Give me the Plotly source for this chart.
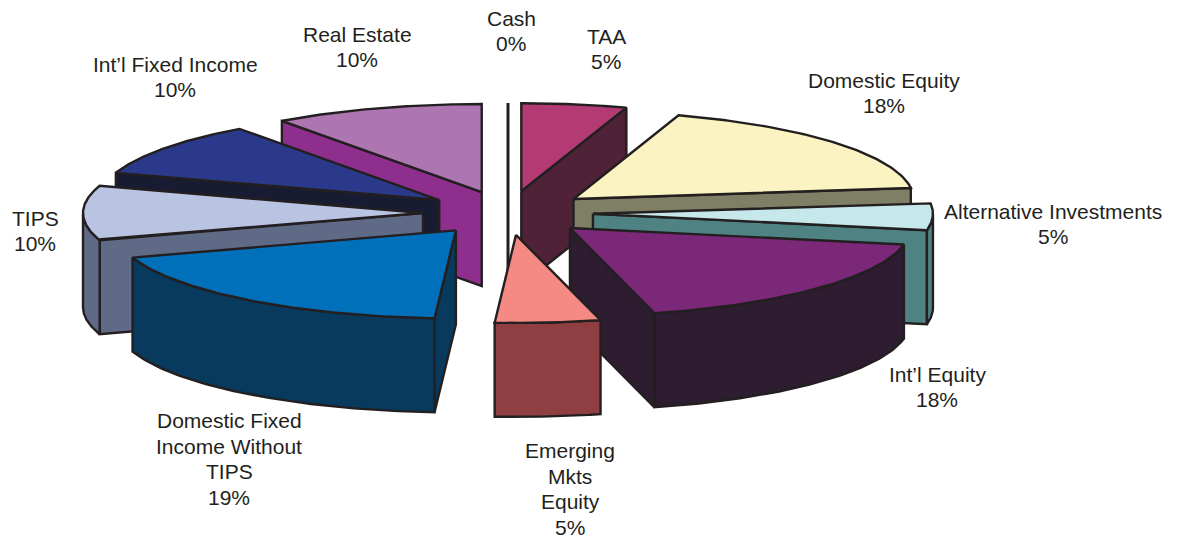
import numpy as np
import plotly.graph_objects as go

# --- data ---
names = ["Cash", "TAA", "Domestic Equity", "Alternative Investments", "Int\u2019l Equity",
         "Emerging<br>Mkts<br>Equity", "Domestic Fixed<br>Income Without<br>TIPS", "TIPS",
         "Int\u2019l Fixed Income", "Real Estate"]
shares = [0, 5, 18, 5, 18, 5, 19, 10, 10, 10]

# --- styles ---
top_colors = ["#231F20", "#B43A73", "#FBF4C2", "#C7E8EA", "#7A2877",
              "#F58A85", "#0070BB", "#B9C3E2", "#2A3989", "#AE76B0"]
side_colors = ["#231F20", "#4F2238", "#7F7F66", "#4E8283", "#2E1C30",
               "#8F3F42", "#083A5E", "#5F6A87", "#171C33", "#8E2F8E"]
edge = "#231F20"
edge_w = 2.4
label_xy = [(511, 31), (606, 49), (884, 93), (1053, 224), (937, 387),
            (570, 489), (229, 459), (35, 231), (175, 77), (357, 47)]
line_step = 25.7

# --- projection of the exploded, tilted disc ---
cx, cy = 508.0, 213.0
rx, ry = 340.0, 88.0
pull = 85.0
depth = 94.0


def disc(theta, r=rx):
    return r * np.sin(theta), -r * (ry / rx) * np.cos(theta)


fig = go.Figure()


def face(xs, ys, fill, name):
    xs = list(xs) + [xs[0]]
    ys = list(ys) + [ys[0]]
    fig.add_trace(go.Scatter(x=xs, y=ys, mode="lines", fill="toself", fillcolor=fill,
                             line=dict(color=edge, width=edge_w), hoverinfo="text",
                             text=name, showlegend=False))


edges = np.cumsum([0] + shares) / sum(shares) * 2 * np.pi
slices = []
for i in range(len(shares)):
    a0, a1 = edges[i], edges[i + 1]
    mid = (a0 + a1) / 2
    ox, oy = disc(mid, pull)
    slices.append((cy + oy, i, a0, a1, cx + ox, cy + oy))

# painter's order: from the back of the disc to the front
for _, i, a0, a1, ax, ay in sorted(slices):
    name = names[i].replace("<br>", " ") + f" {shares[i]}%"
    th = np.linspace(a0, a1, 80)
    px, py = disc(th)
    px, py = ax + px, ay + py

    if a1 - a0 < 1e-6:  # zero share: only a thin wall
        fig.add_trace(go.Scatter(x=[ax, px[0], px[0], ax], y=[ay + depth, py[0], py[0], ay],
                                 mode="lines", line=dict(color=edge, width=edge_w + 0.6),
                                 hoverinfo="text", text=name, showlegend=False))
        continue

    # radial walls turned toward the viewer
    if np.sin(a0) < 0:
        face([ax, px[0], px[0], ax], [ay, py[0], py[0] + depth, ay + depth], side_colors[i], name)
    if np.sin(a1) > 0:
        face([ax, px[-1], px[-1], ax], [ay, py[-1], py[-1] + depth, ay + depth], side_colors[i], name)
    # rim: only the near half of the circle is seen
    vis = np.cos(th) <= 0
    if vis.sum() > 1:
        vx, vy = px[vis], py[vis]
        face(list(vx) + list(vx[::-1]), list(vy) + list(vy[::-1] + depth), side_colors[i], name)
    # top
    face([ax] + list(px), [ay] + list(py), top_colors[i], name)

# one annotation per text line, so the line pitch can follow the reference
annotations = []
for n, s, (x, y) in zip(names, shares, label_xy):
    rows = n.split("<br>") + [f"{s}%"]
    for k, row in enumerate(rows):
        annotations.append(dict(
            x=x, y=y + (k - (len(rows) - 1) / 2) * line_step, text=row, showarrow=False,
            xanchor="center", yanchor="middle", align="center",
            font=dict(family="Liberation Sans, Arial, sans-serif", size=21, color="#231F20")))

fig.update_layout(
    width=1180, height=539, margin=dict(l=0, r=0, t=0, b=0),
    paper_bgcolor="white", plot_bgcolor="white", showlegend=False, annotations=annotations,
    xaxis=dict(range=[0, 1180], visible=False, fixedrange=True),
    yaxis=dict(range=[539, 0], visible=False, fixedrange=True),
)
fig.write_html("out.html", config=dict(displayModeBar=False),
               post_script="document.body.style.margin='0';document.body.style.overflow='hidden';")
